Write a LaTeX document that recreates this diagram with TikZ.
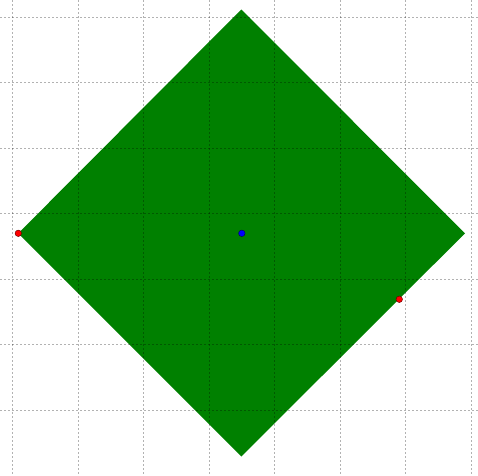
\documentclass[tikz,border=0pt]{standalone}
\begin{document}
\begin{tikzpicture}[x=1pt,y=-1pt,
  gridline/.style={black,opacity=0.3,line width=1pt,dash pattern=on 2pt off 2pt},
  shapefill/.style={fill={rgb,255:red,0;green,128;blue,0},draw=none},
  reddot/.style={circle,fill=red,draw={rgb,255:red,90;green,0;blue,0},line width=0.4pt,inner sep=0pt,minimum size=6.5pt},
  bluedot/.style={circle,fill=blue,draw={rgb,255:red,0;green,0;blue,90},line width=0.4pt,inner sep=0pt,minimum size=6.5pt}]
\useasboundingbox (0,0) rectangle (478,475);
\coordinate (T) at (241.3,9.5);
\coordinate (R) at (465,233.3);
\coordinate (B) at (241.3,456.5);
\coordinate (L) at (18.3,233.3);
\coordinate (C) at (241.8,233.3);
\coordinate (P) at (399.3,299.3);
\fill[shapefill] (T) -- (R) -- (B) -- (L) -- cycle;
\foreach \k in {0,...,7}{
  \draw[gridline] ({12.7+65.5*\k},0) -- ({12.7+65.5*\k},475);
}
\foreach \k in {0,...,6}{
  \draw[gridline] (0,{17.3+65.5*\k}) -- (478,{17.3+65.5*\k});
}
\node[reddot] (pL) at (L) {};
\node[reddot] (pP) at (P) {};
\node[bluedot] (pC) at (C) {};
\end{tikzpicture}
\end{document}
